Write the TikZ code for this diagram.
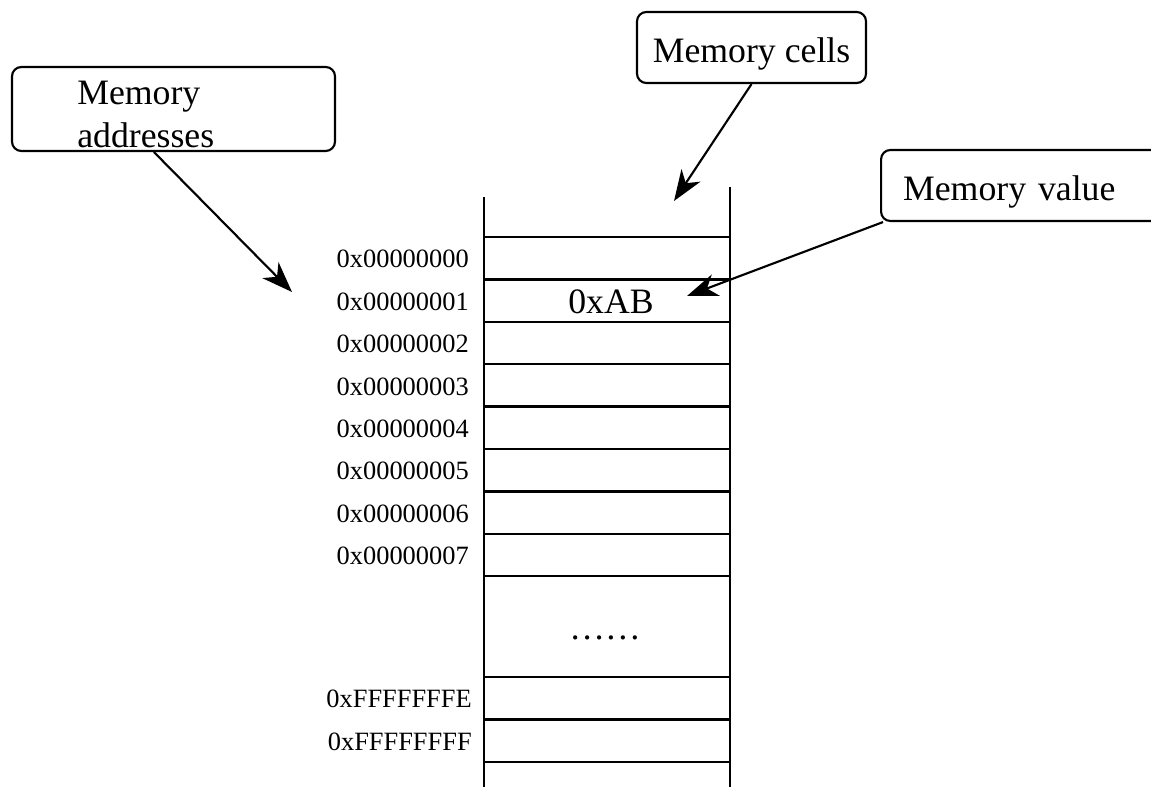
\documentclass[tikz,border=0pt]{standalone}
\usepackage{fontspec}
\setmainfont{Liberation Serif}
\usetikzlibrary{arrows.meta,calc}
\begin{document}
\begin{tikzpicture}[x=0.75pt,y=-0.75pt,
  callout/.style={draw, line width=1.6pt, rounded corners=7pt, inner sep=0pt},
  bigtext/.style={font=\fontsize{26.8pt}{32.25pt}\selectfont},
  addr/.style={font=\fontsize{19.8pt}{24pt}\selectfont, inner sep=0pt, anchor=east},
  cell/.style={draw, line width=1.7pt, minimum width=184.5pt, minimum height=31.8pt, inner sep=0pt, outer sep=0pt},
  pointer/.style={line width=1.6pt, -{Stealth[length=23pt,width=17pt,inset=7pt]}},
  rail/.style={line width=1.9pt}]

\useasboundingbox (0,0) rectangle (1151,787);
\clip (0,0) rectangle (1151,787);

% first eight memory cells with their addresses
\foreach \i in {0,...,7} {
  \node[cell] (c\i) at (607, 258.2+42.4*\i) {};
  \node[addr] (a\i) at ($(c\i.west)+(-15,1)$) {0x0000000\i};
}

% gap standing for the omitted cells
\node[cell, minimum height=75.6pt] (cdots) at (607, 626.6) {};
\node[bigtext, anchor=base, inner sep=0pt] (dots) at (605,639) {……};

% last cells of the address space
\node[cell] (cfe) at (607, 698.2) {};
\node[cell] (cff) at (607, 740.6) {};
\node[cell] (cend) at (607, 783) {};
\node[addr] (afe) at ($(cfe.west)+(-12,1)$) {0xFFFFFFFE};
\node[addr] (aff) at ($(cff.west)+(-12,1)$) {0xFFFFFFFF};

% stored value
\node[bigtext] (val) at ($(c1)+(4,1)$) {0xAB};

% side rails of the memory column
\draw[rail] (484,197) -- (484,800);
\draw[rail] (730,187) -- (730,800);

% callouts
\node[callout, minimum width=242.25pt, minimum height=63pt] (ma) at (173.5,109) {};
\node[bigtext, anchor=base west, align=left, inner sep=0pt] (matext) at (77,148) {Memory\\addresses};

\node[callout, bigtext, minimum width=171.75pt, minimum height=53.25pt,
      text height=24.75pt, text depth=1.5pt] (mc) at (751.5,47.5) {Memory cells};

\node[callout, bigtext, anchor=west, minimum height=53.25pt,
      text height=24.75pt, text depth=1.5pt, inner xsep=16.5pt,
      text width=250pt, align=left] (mv) at (880,185.5) {Memory value};

% pointers
\coordinate (tipA) at (292,292);
\coordinate (tipC) at (674,201);
\coordinate (tipV) at (687,296);
\draw[pointer] ($(ma.south west)+(143,0)$) -- (tipA);
\draw[pointer] (mc.south) -- (tipC);
\draw[pointer] ($(mv.south west)+(3,0)$) -- (tipV);
\end{tikzpicture}
\end{document}
